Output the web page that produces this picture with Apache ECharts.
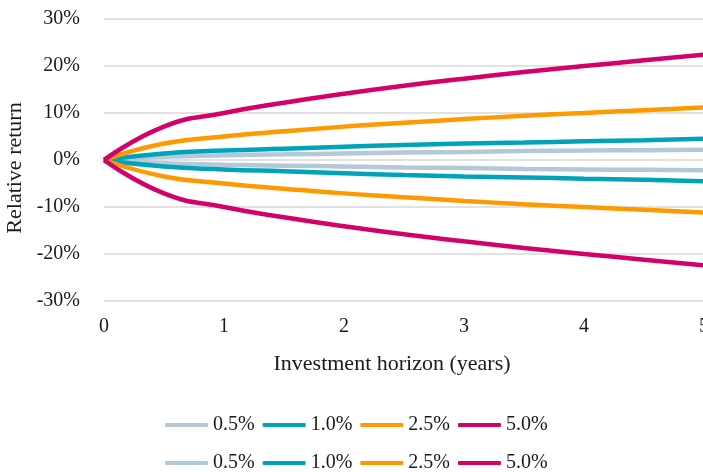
<!DOCTYPE html>
<html>
<head>
<meta charset="utf-8">
<script src="https://cdn.jsdelivr.net/npm/echarts@6/dist/echarts.min.js"></script>
<style>
  html, body { margin: 0; padding: 0; background: #fff; }
  #chart { width: 703px; height: 472px; }
</style>
</head>
<body>
<div id="chart"></div>
<script>
// Investment horizon in years
const horizon = [0, 0.5, 1, 1.5, 2, 2.5, 3, 3.5, 4, 4.5, 5];

// Relative return (%) bands for each tracking level
const band05 = [0, 0.7, 1.0, 1.2, 1.4, 1.6, 1.7, 1.9, 2.0, 2.1, 2.2];
const band10 = [0, 1.4, 2.0, 2.4, 2.8, 3.2, 3.5, 3.7, 4.0, 4.2, 4.5];
const band25 = [0, 3.5, 5.0, 6.1, 7.1, 7.9, 8.7, 9.4, 10.0, 10.6, 11.2];
const band50 = [0, 7.1, 10.0, 12.2, 14.1, 15.8, 17.3, 18.7, 20.0, 21.2, 22.4];

const names = ['0.5%', '1.0%', '2.5%', '5.0%'];
const colors = ['#B3C8D9', '#00A3BA', '#FF9900', '#D4006B'];
const bands = [band05, band10, band25, band50];

const FONT = '"Liberation Serif", "DejaVu Serif", serif';

function pairs(vals, sign) {
  return horizon.map((x, i) => [x, sign * vals[i]]);
}

const series = [];
[1, -1].forEach(sign => {
  bands.forEach((vals, k) => {
    series.push({
      name: names[k],
      type: 'line',
      data: pairs(vals, sign),
      smooth: true,
      symbol: 'none',
      lineStyle: { width: 4.5, color: colors[k] },
      itemStyle: { color: colors[k] },
      z: 2 + k
    });
  });
});

const legendBase = {
  data: names,
  icon: 'roundRect',
  itemWidth: 43,
  itemHeight: 4,
  itemGap: 8,
  textStyle: { fontFamily: FONT, fontSize: 20, color: '#1a1a1a' },
  left: 160
};

const chart = echarts.init(document.getElementById('chart'));
chart.setOption({
  animation: false,
  backgroundColor: '#fff',
  color: colors,
  grid: { left: 104, top: 19, width: 600, height: 282, outerBoundsMode: 'none', containLabel: false },
  legend: [
    Object.assign({}, legendBase, { top: 410 }),
    Object.assign({}, legendBase, { top: 448 })
  ],
  xAxis: {
    type: 'value',
    min: 0, max: 5, interval: 1,
    name: 'Investment horizon (years)',
    nameLocation: 'middle',
    nameGap: 52,
    nameTextStyle: { fontFamily: FONT, fontSize: 22, color: '#1a1a1a', padding: [0, 24, 0, 0] },
    axisLine: { show: false },
    axisTick: { show: false },
    splitLine: { show: false },
    axisLabel: { fontFamily: FONT, fontSize: 20, color: '#1a1a1a', margin: 16 }
  },
  yAxis: {
    type: 'value',
    min: -30, max: 30, interval: 10,
    name: 'Relative return',
    nameLocation: 'middle',
    nameGap: 76,
    nameTextStyle: { fontFamily: FONT, fontSize: 22, color: '#1a1a1a', padding: [0, 16, 0, 0] },
    axisLine: { show: false },
    axisTick: { show: false },
    splitLine: { lineStyle: { color: '#D9D9D9', width: 1.5 } },
    axisLabel: { fontFamily: FONT, fontSize: 20, color: '#1a1a1a', margin: 24, formatter: v => v + '%' }
  },
  series: series
});
</script>
</body>
</html>
